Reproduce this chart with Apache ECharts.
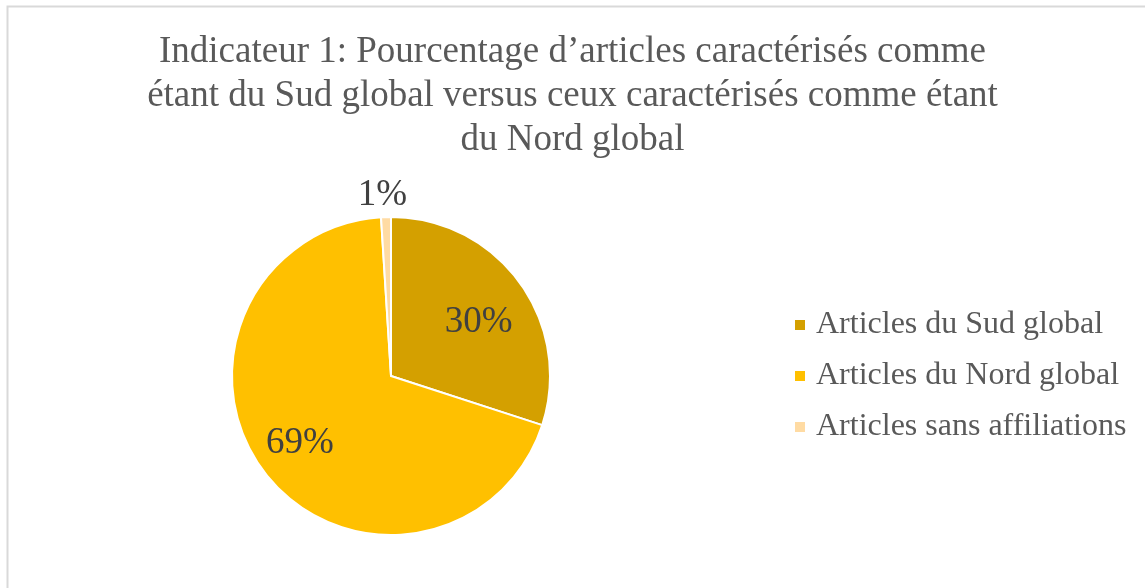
<!DOCTYPE html>
<html>
<head>
<meta charset="utf-8">
<script src="https://cdn.jsdelivr.net/npm/echarts@6/dist/echarts.min.js"></script>
<style>
  html, body { margin: 0; padding: 0; background: #fff; }
  #chart { width: 1145px; height: 588px; }
</style>
</head>
<body>
<div id="chart"></div>
<script>
const categories = ['Articles du Sud global', 'Articles du Nord global', 'Articles sans affiliations'];
const shares = [30, 69, 1];
const colors = ['#D4A000', '#FFC000', '#FFDBA3'];
const labelTexts = ['30%', '69%', '1%'];

const chart = echarts.init(document.getElementById('chart'));

// décalages des étiquettes (style) pour imiter le placement d'Excel
const labelOffsets = [[21, -5], [-26, 17], [27, 4]];

const seriesData = categories.map((name, i) => ({
    name: name,
    value: shares[i],
    itemStyle: { color: colors[i] },
    label: i === 2
        ? { position: 'outside', offset: labelOffsets[i] }
        : { position: 'inside', offset: labelOffsets[i] },
    labelLine: { show: false, length: 26, length2: 0 }
}));

const options = {
    backgroundColor: '#ffffff',
    graphic: [{
        type: 'rect',
        left: 5,
        top: 4,
        shape: { width: 1160, height: 620 },
        style: { fill: 'none', stroke: '#D9D9D9', lineWidth: 2 },
        silent: true
    }],
    title: {
        text: 'Indicateur 1: Pourcentage d’articles caractérisés comme\nétant du Sud global versus ceux caractérisés comme étant\ndu Nord global',
        left: 'center',
        top: 25,
        textStyle: {
            fontFamily: 'Liberation Serif',
            fontWeight: 'normal',
            fontSize: 37,
            lineHeight: 44,
            color: '#595959'
        }
    },
    legend: {
        orient: 'vertical',
        left: 788,
        top: 304,
        itemWidth: 12,
        itemHeight: 12,
        itemGap: 19,
        icon: 'rect',
        data: categories,
        textStyle: {
            fontFamily: 'Liberation Serif',
            fontSize: 32,
            lineHeight: 32,
            color: '#595959',
            padding: [0, 0, 0, 5]
        }
    },
    series: [{
        type: 'pie',
        center: [391, 376],
        radius: 159,
        startAngle: 90,
        clockwise: true,
        avoidLabelOverlap: false,
        itemStyle: { borderColor: '#ffffff', borderWidth: 2 },
        label: {
            show: true,
            formatter: (p) => labelTexts[p.dataIndex],
            fontFamily: 'Liberation Serif',
            fontSize: 37,
            color: '#404040'
        },
        emphasis: { disabled: true },
        data: seriesData
    }]
};

chart.setOption(options);
</script>
</body>
</html>
